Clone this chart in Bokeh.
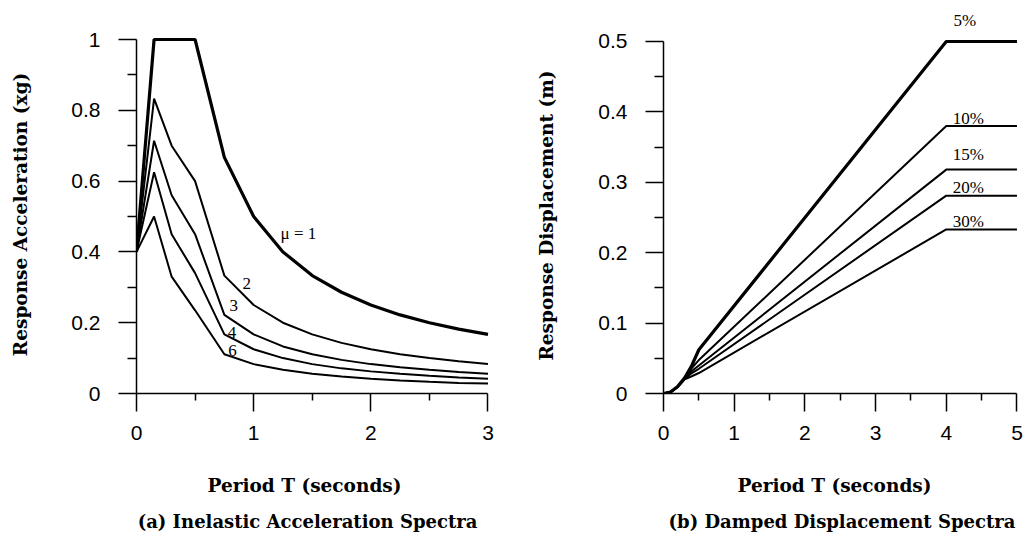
from bokeh.plotting import figure
from bokeh.layouts import row, column
from bokeh.models import Range1d, FixedTicker, CustomJSTickFormatter, Title
from bokeh.core.properties import value
from bokeh.embed import file_html
from bokeh.resources import INLINE

# ---------------- data (a) inelastic acceleration spectra ----------------
periods_a = [0, 0.15, 0.3, 0.5, 0.75, 1.0, 1.25, 1.5, 1.75, 2.0, 2.25, 2.5, 2.75, 3.0]
acc_mu1 = [0.40, 1.00, 1.00, 1.00, 0.667, 0.50, 0.40, 0.333, 0.286, 0.25, 0.222, 0.20, 0.182, 0.167]
acc_mu2 = [0.40, 0.833, 0.70, 0.60, 0.333, 0.25, 0.20, 0.167, 0.143, 0.125, 0.111, 0.10, 0.091, 0.083]
acc_mu3 = [0.40, 0.714, 0.56, 0.45, 0.222, 0.167, 0.133, 0.111, 0.095, 0.083, 0.074, 0.067, 0.061, 0.056]
acc_mu4 = [0.40, 0.625, 0.45, 0.34, 0.167, 0.125, 0.10, 0.083, 0.071, 0.0625, 0.056, 0.05, 0.045, 0.042]
acc_mu6 = [0.40, 0.50, 0.33, 0.235, 0.111, 0.083, 0.067, 0.056, 0.048, 0.042, 0.037, 0.033, 0.030, 0.028]
mu_labels = ["\u03bc = 1", "2", "3", "4", "6"]
mu_label_x = [1.23, 0.94, 0.83, 0.815, 0.82]
mu_label_y = [0.452, 0.31, 0.249, 0.173, 0.121]

# ---------------- data (b) damped displacement spectra ----------------
periods_b = [0, 0.1, 0.2, 0.3, 0.4, 0.5, 4.0, 5.0]
disp_5 = [0, 0.002, 0.0099, 0.0224, 0.0398, 0.0621, 0.50, 0.50]
disp_10 = [0, 0.002, 0.0097, 0.0215, 0.036, 0.0475, 0.38, 0.38]
disp_15 = [0, 0.002, 0.0095, 0.021, 0.032, 0.0398, 0.318, 0.318]
disp_20 = [0, 0.002, 0.0093, 0.0205, 0.029, 0.0351, 0.281, 0.281]
disp_30 = [0, 0.002, 0.009, 0.020, 0.0245, 0.0291, 0.233, 0.233]
damp_labels = ["5%", "10%", "15%", "20%", "30%"]
damp_label_y = [0.531, 0.391, 0.3395, 0.2925, 0.244]

a_xticks = [0, 1, 2, 3]
a_xminor = [0.5, 1.5, 2.5]
a_yticks = [0, 0.2, 0.4, 0.6, 0.8, 1]
a_yminor = [0.1, 0.3, 0.5, 0.7, 0.9]
b_xticks = [0, 1, 2, 3, 4, 5]
b_xminor = [0.5, 1.5, 2.5, 3.5, 4.5]
b_yticks = [0, 0.1, 0.2, 0.3, 0.4, 0.5]
b_yminor = [0.05, 0.15, 0.25, 0.35, 0.45]

# bottom texts: [axis title, caption]; x in pixels from the plot frame's left edge
a_bottom_text = ["Period T (seconds)", "(a) Inelastic Acceleration Spectra"]
a_bottom_x = [168, 171]
b_bottom_text = ["Period T (seconds)", "(b) Damped Displacement Spectra"]
b_bottom_x = [171, 178.5]
bottom_y = [52, 16]
bottom_size = ["18.5px", "18px"]

SERIF = "DejaVu Serif"
SANS = "Liberation Sans"
ANN = "Liberation Serif"

fmt = "return tick.toString();"


def style_axes(p, xt, xm, yt, ym, xb, yb):
    p.xaxis.ticker = FixedTicker(ticks=xt, minor_ticks=xm)
    p.yaxis.ticker = FixedTicker(ticks=yt, minor_ticks=ym)
    p.xaxis.bounds = xb
    p.yaxis.bounds = yb
    for ax in (p.xaxis[0], p.yaxis[0]):
        ax.formatter = CustomJSTickFormatter(code=fmt)
        ax.axis_line_color = "black"
        ax.axis_line_width = 1.5
        ax.major_tick_line_color = "black"
        ax.major_tick_line_width = 1.5
        ax.minor_tick_line_color = "black"
        ax.minor_tick_line_width = 1.5
        ax.major_tick_in = 0
        ax.minor_tick_in = 0
        ax.major_label_text_font = SANS
        ax.major_label_text_font_size = "21px"
        ax.major_label_text_color = "black"
        ax.axis_label_text_font = SERIF
        ax.axis_label_text_font_size = "18.5px"
        ax.axis_label_text_font_style = "bold"
        ax.axis_label_text_color = "black"
    p.xaxis.major_tick_out = 18
    p.xaxis.minor_tick_out = 7
    p.yaxis.major_tick_out = 18
    p.yaxis.minor_tick_out = 9
    p.xaxis.major_label_standoff = 14
    p.yaxis.major_label_standoff = 18
    p.xgrid.visible = False
    p.ygrid.visible = False
    p.outline_line_color = None


def caption_strip(width, left, right, xs, texts):
    c = figure(width=width, height=77, x_range=Range1d(0, width - left - right),
               y_range=Range1d(0, 77), min_border_left=left, min_border_right=right,
               min_border_top=0, min_border_bottom=0, toolbar_location=None,
               output_backend="svg", x_axis_type=None, y_axis_type=None,
               background_fill_color="white")
    c.outline_line_color = None
    c.grid.visible = False
    for i in range(len(texts)):
        c.text(x=[xs[i]], y=[bottom_y[i]], text=[texts[i]], text_font=value(SERIF),
               text_font_size=bottom_size[i], text_font_style="bold", text_align="center",
               text_baseline="middle", text_color="black")
    return c


# ---------------- figure (a) ----------------
pa = figure(width=520, height=460, x_range=Range1d(0, 3.03), y_range=Range1d(0, 1.0113),
            min_border_left=136, min_border_right=29, min_border_top=35, min_border_bottom=67,
            toolbar_location=None, output_backend="svg", background_fill_color="white")
style_axes(pa, a_xticks, a_xminor, a_yticks, a_yminor, (0, 3), (0, 1))
pa.yaxis.axis_label = "Response Acceleration (xg)"
pa.yaxis.axis_label_standoff = 37

pa.line(periods_a, acc_mu1, line_color="black", line_width=3.2)
for ys in (acc_mu2, acc_mu3, acc_mu4, acc_mu6):
    pa.line(periods_a, ys, line_color="black", line_width=2)
pa.text(x=mu_label_x[:1], y=mu_label_y[:1], text=mu_labels[:1], text_font=value(ANN),
        text_font_size="17px", text_align="left", text_baseline="middle", text_color="black")
pa.text(x=mu_label_x[1:], y=mu_label_y[1:], text=mu_labels[1:], text_font=value(ANN),
        text_font_size="17px", text_align="center", text_baseline="middle", text_color="black")

# ---------------- figure (b) ----------------
pb = figure(width=513, height=460, x_range=Range1d(0, 5.05), y_range=Range1d(0, 0.50565),
            min_border_left=143, min_border_right=13, min_border_top=35, min_border_bottom=67,
            toolbar_location=None, output_backend="svg", background_fill_color="white")
style_axes(pb, b_xticks, b_xminor, b_yticks, b_yminor, (0, 5), (0, 0.5))
pb.yaxis.axis_label = "Response Displacement (m)"
pb.yaxis.axis_label_standoff = 38

pb.line(periods_b, disp_5, line_color="black", line_width=3.2)
for ys in (disp_10, disp_15, disp_20, disp_30):
    pb.line(periods_b, ys, line_color="black", line_width=2)
# "5%" sits above the plotting frame, so it goes in the top panel
pb.add_layout(Title(text=damp_labels[0], align="left", offset=290, text_font=ANN,
                    text_font_size="17px", text_font_style="normal", text_color="black",
                    standoff=16), "above")
pb.text(x=[4.09] * (len(damp_labels) - 1), y=damp_label_y[1:], text=damp_labels[1:],
        text_font=value(ANN), text_font_size="17px", text_align="left",
        text_baseline="middle", text_color="black")

ca = caption_strip(520, 136, 29, a_bottom_x, a_bottom_text)
cb = caption_strip(513, 143, 13, b_bottom_x, b_bottom_text)

layout = row(column(pa, ca, spacing=0), column(pb, cb, spacing=0), spacing=0)
open("out.html", "w").write(file_html(layout, INLINE))
